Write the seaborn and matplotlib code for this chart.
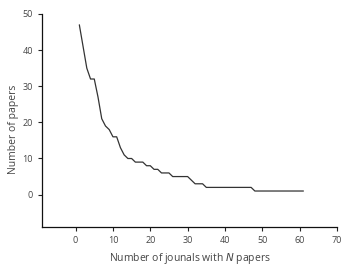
import pandas as pd
import numpy as np
import matplotlib.pyplot as plt
import seaborn as sns

# Journals ranked by number of papers
rank = list(range(1, 62))
papers = [47, 41, 35, 32, 32, 27, 21, 19, 18, 16,
          16, 13, 11, 10, 10, 9, 9, 9, 8, 8,
          7, 7, 6, 6, 6, 5, 5, 5, 5, 5,
          4, 3, 3, 3, 2, 2, 2, 2, 2, 2,
          2, 2, 2, 2, 2, 2, 2, 1, 1, 1,
          1, 1, 1, 1, 1, 1, 1, 1, 1, 1,
          1]

df = pd.DataFrame({"rank": rank, "papers": papers})

sns.set_style("ticks")
plt.rcParams['font.family'] = ['Open Sans', 'DejaVu Sans']
plt.rcParams['text.color'] = '#444444'
plt.rcParams['axes.labelcolor'] = '#444444'
plt.rcParams['xtick.color'] = '#222222'
plt.rcParams['ytick.color'] = '#222222'
plt.rcParams['xtick.labelcolor'] = '#444444'
plt.rcParams['ytick.labelcolor'] = '#444444'

fig = plt.figure(figsize=(3.62, 2.74), dpi=100)
ax = fig.add_axes([0.116, 0.171, 0.815, 0.778])

sns.lineplot(data=df, x="rank", y="papers", ax=ax, color="#333333", linewidth=0.9)

ax.set_xlim(-9, 70)
ax.set_ylim(-9, 50)
ax.set_xticks(range(0, 71, 10))
ax.set_yticks(range(0, 51, 10))
ax.tick_params(labelsize=6.5, length=3, width=0.8)
ax.set_xlabel("Number of jounals with $\\it{N}$ papers", fontsize=7.5, labelpad=4)
ax.set_ylabel("Number of papers", fontsize=7.5)
ax.yaxis.set_label_coords(-0.078, 0.46)
for s in ["top", "right"]:
    ax.spines[s].set_visible(False)
for s in ["left", "bottom"]:
    ax.spines[s].set_linewidth(0.9)
    ax.spines[s].set_color("#111111")

fig.savefig("out.png", dpi=100)
